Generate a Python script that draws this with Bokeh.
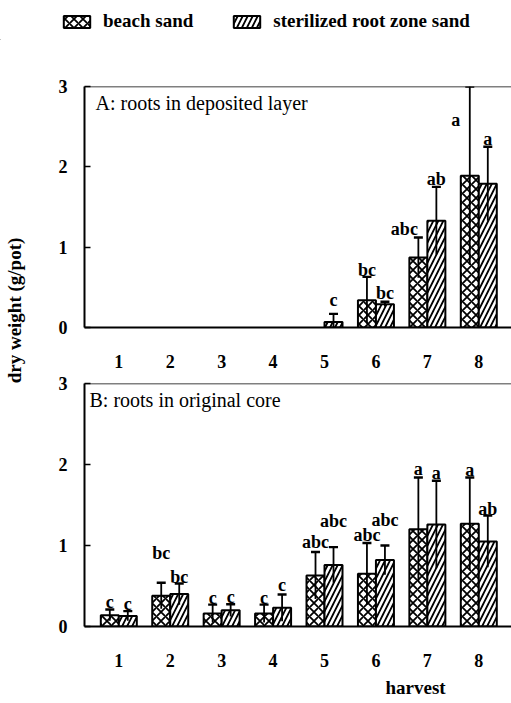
import numpy as np
from bokeh.plotting import figure
from bokeh.models import (ColumnDataSource, Whisker, TeeHead, Legend, LegendItem,
                          FixedTicker, Span, Label, Title, Range1d)
from bokeh.layouts import column, row
from bokeh.core.properties import value
from bokeh.embed import file_html
from bokeh.resources import INLINE

# ---------------- data ----------------
harvest = [1, 2, 3, 4, 5, 6, 7, 8]
tick_labels = ["1", "2", "3", "4", "5", "6", "7", "8"]
series_names = ["beach sand", "sterilized root zone sand"]

# A: roots in deposited layer
a_beach = [0, 0, 0, 0, 0, 0.34, 0.87, 1.89]
a_beach_err = [0, 0, 0, 0, 0, 0.29, 0.25, 1.11]
a_beach_sig = ["", "", "", "", "", "bc", "abc", "a"]
a_steril = [0, 0, 0, 0, 0.07, 0.29, 1.33, 1.79]
a_steril_err = [0, 0, 0, 0, 0.10, 0.03, 0.42, 0.46]
a_steril_sig = ["", "", "", "", "c", "bc", "ab", "a"]

# B: roots in original core
b_beach = [0.14, 0.38, 0.16, 0.16, 0.63, 0.65, 1.20, 1.27]
b_beach_err = [0.07, 0.16, 0.11, 0.11, 0.29, 0.38, 0.64, 0.57]
b_beach_sig = ["c", "bc", "c", "c", "abc", "abc", "a", "a"]
b_steril = [0.13, 0.40, 0.20, 0.23, 0.76, 0.82, 1.26, 1.05]
b_steril_err = [0.06, 0.13, 0.075, 0.165, 0.22, 0.18, 0.54, 0.32]
b_steril_sig = ["c", "bc", "c", "c", "abc", "abc", "a", "ab"]

# letter placement tweaks (pixels)
a_beach_raise = [0, 0, 0, 0, 0, 0, 2, -40]
a_beach_dx = [0, 0, 0, 0, 0, 0, -14, -14]
a_steril_raise = [0, 0, 0, 0, 7, 2, 1, 1]
a_steril_dx = [0, 0, 0, 0, 0, 0, 0, 0]
b_beach_raise = [0, 23, 0, 0, 3, 1, 1, 0]
b_beach_dx = [0, 0, 0, 0, 0, 0, 0, 0]
b_steril_raise = [0, 0, 0, 3, 19, 19, 1, 0]
b_steril_dx = [0, 0, 0, 0, 0, 0, 0, 0]

# ---------------- style ----------------
FONT = "Liberation Serif"
X0, X1 = 0.333, 8.636
YMAX = 3.0
BAR_W = 0.35
HATCH = {"beach": dict(hatch_pattern="diagonal_cross", hatch_scale=9),
         "steril": dict(hatch_pattern="right_diagonal_line", hatch_scale=10)}


def bar_style(kind):
    d = dict(fill_color="white", line_color="black", line_width=2,
             hatch_color="black", hatch_weight=1.8)
    d.update(HATCH[kind])
    return d


def add_series(p, vals, errs, sigs, raise_px, dx_px, shift, kind):
    xs = np.array(harvest, dtype=float) + shift
    v = np.array(vals, dtype=float)
    e = np.array(errs, dtype=float)
    keep = v > 0
    src = ColumnDataSource(dict(x=xs[keep], top=v[keep]))
    r = p.vbar(x="x", top="top", width=BAR_W, source=src, **bar_style(kind))
    up = np.minimum(v + e, YMAX)
    wsrc = ColumnDataSource(dict(x=xs[keep], upper=up[keep], lower=(v - e)[keep]))
    w = Whisker(source=wsrc, base="x", upper="upper", lower="lower", dimension="height",
                line_color="black", line_width=1.8, level="annotation",
                upper_head=TeeHead(size=9, line_width=2.4, line_color="black"),
                lower_head=None)
    p.add_layout(w)
    sig = np.array(sigs)
    has = sig != ""
    tsrc = ColumnDataSource(dict(x=xs[has], y=up[has], text=sig[has],
                                 dx=np.array(dx_px, dtype=float)[has],
                                 dy=-(7 + np.array(raise_px, dtype=float)[has])))
    p.text(x="x", y="y", text="text", x_offset="dx", y_offset="dy", source=tsrc,
           text_font=value(FONT), text_font_size="18px", text_font_style="bold",
           text_align="center", text_baseline="alphabetic", text_color="black")
    return r


def make_panel(title, title_dx, beach, beach_err, beach_sig, steril, steril_err, steril_sig,
               rb, dxb, rs, dxs, height, top, bottom):
    p = figure(width=481, height=height, x_range=Range1d(X0, X1), y_range=Range1d(0, YMAX),
               min_border_left=54, min_border_right=0, min_border_top=top,
               min_border_bottom=bottom, toolbar_location=None, output_backend="svg",
               outline_line_color=None, background_fill_color="white",
               border_fill_color="white")
    p.grid.grid_line_color = None
    rbeach = add_series(p, beach, beach_err, beach_sig, rb, dxb, -BAR_W / 2, "beach")
    rster = add_series(p, steril, steril_err, steril_sig, rs, dxs, BAR_W / 2, "steril")
    p.add_layout(Span(location=YMAX, dimension="width", line_color="black", line_width=1.6))

    p.yaxis.ticker = FixedTicker(ticks=[0, 1, 2, 3])
    p.yaxis.major_tick_in = 6
    p.yaxis.major_tick_out = 0
    p.yaxis.minor_tick_line_color = None
    p.yaxis.axis_line_width = 2
    p.yaxis.major_tick_line_width = 1.6
    p.yaxis.major_label_standoff = 17
    p.xaxis.ticker = FixedTicker(ticks=harvest)
    p.xaxis.major_label_overrides = {h: t for h, t in zip(harvest, tick_labels)}
    p.xaxis.major_tick_line_color = None
    p.xaxis.major_tick_in = 0
    p.xaxis.major_tick_out = 0
    p.xaxis.minor_tick_line_color = None
    p.xaxis.axis_line_width = 2
    p.xaxis.major_label_standoff = 27
    for ax in (p.xaxis, p.yaxis):
        ax.major_label_text_font = FONT
        ax.major_label_text_font_size = "18px"
        ax.major_label_text_font_style = "bold"
        ax.major_label_text_color = "black"
        ax.axis_line_color = "black"

    p.add_layout(Label(x=X0, y=YMAX, x_offset=title_dx, y_offset=-5, text=title,
                       text_font=FONT, text_font_size="20px", text_baseline="top",
                       text_align="left", text_color="black"))
    return p, rbeach, rster


pA, rA1, rA2 = make_panel("A: roots in deposited layer", 11,
                          a_beach, a_beach_err, a_beach_sig, a_steril, a_steril_err, a_steril_sig,
                          a_beach_raise, a_beach_dx, a_steril_raise, a_steril_dx,
                          height=333, top=46, bottom=46)
pB, rB1, rB2 = make_panel("B: roots in original core", 5,
                          b_beach, b_beach_err, b_beach_sig, b_steril, b_steril_err, b_steril_sig,
                          b_beach_raise, b_beach_dx, b_steril_raise, b_steril_dx,
                          height=330, top=10, bottom=77)
pB.add_layout(Title(text="harvest", align="left", offset=301, text_font=FONT,
                    text_font_size="19px", text_font_style="bold", text_color="black",
                    standoff=10), "below")

# legend strip (swatches come from off-screen sample bars)
lf = figure(width=511, height=40, x_range=Range1d(0, 1), y_range=Range1d(0, 1), min_border=0,
            x_axis_location=None, y_axis_location=None, toolbar_location=None,
            output_backend="svg", outline_line_color=None)
lf.grid.grid_line_color = None
l1 = lf.vbar(x=[-5], top=[0], width=0.1, **bar_style("beach"))
l2 = lf.vbar(x=[-5], top=[0], width=0.1, **bar_style("steril"))
leg = Legend(items=[LegendItem(label=series_names[0], renderers=[l1], index=0),
                    LegendItem(label=series_names[1], renderers=[l2], index=0)],
             orientation="horizontal", location=(60, 8), glyph_width=33, glyph_height=15,
             label_standoff=10, spacing=37, padding=0, margin=0,
             border_line_color=None, background_fill_alpha=0,
             label_text_font=FONT, label_text_font_size="19px",
             label_text_font_style="bold", label_text_color="black")
lf.add_layout(leg)

# y label strip
yl = figure(width=30, height=663, x_range=Range1d(0, 1), y_range=Range1d(0, 1), min_border=0,
            x_axis_location=None, y_axis_location=None, toolbar_location=None,
            output_backend="svg", outline_line_color=None)
yl.grid.grid_line_color = None
yl.add_layout(Label(x=14, y=393, x_units="screen", y_units="screen", angle=np.pi / 2,
                    text="dry weight (g/pot)", text_font=FONT, text_font_size="19px",
                    text_font_style="bold", text_align="center", text_baseline="middle",
                    text_color="black"))

layout = column(lf, row(yl, column(pA, pB)))
open("out.html", "w").write(file_html(layout, INLINE))
